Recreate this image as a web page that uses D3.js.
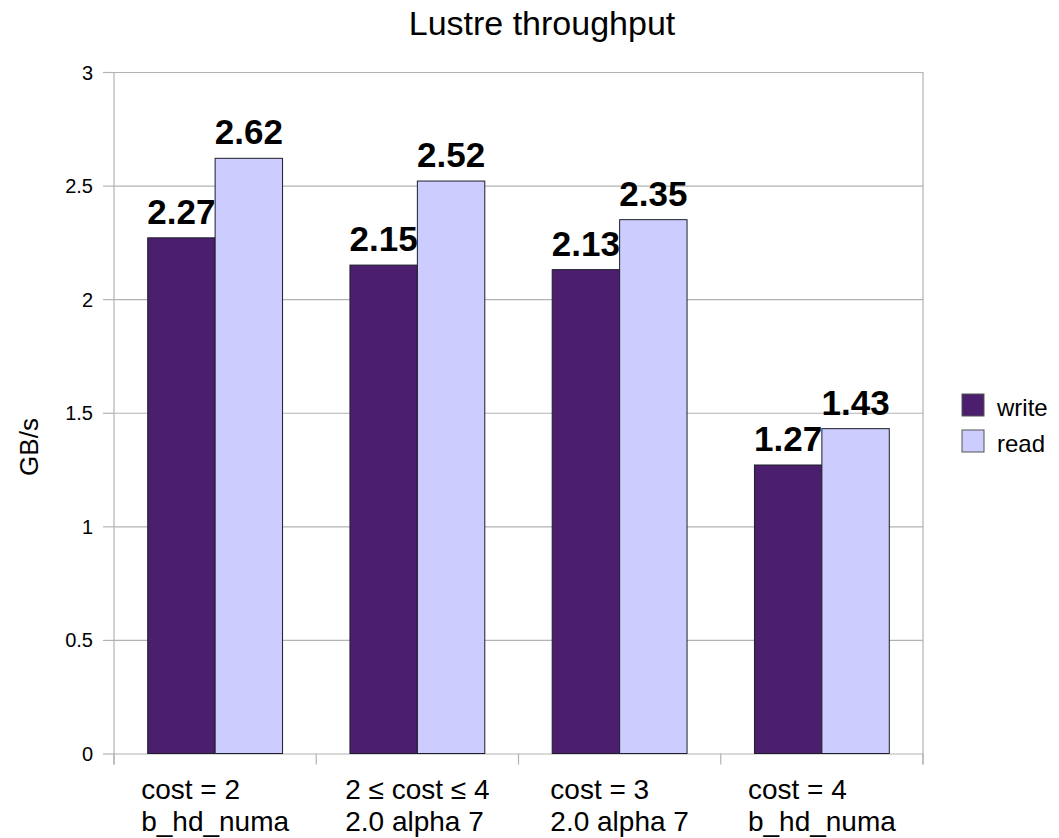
<!DOCTYPE html>
<html>
<head>
<meta charset="utf-8">
<script src="https://cdn.jsdelivr.net/npm/d3@7"></script>
<style>
  html, body { margin: 0; padding: 0; background: #fff; }
  svg { display: block; font-family: "Liberation Sans", Arial, sans-serif; }
</style>
</head>
<body>
<svg id="chart" width="1059" height="838"></svg>
<script>
// Throughput per configuration, GB/s
const categories = [
  ["cost = 2", "b_hd_numa"],
  ["2 \u2264 cost \u2264 4", "2.0 alpha 7"],
  ["cost = 3", "2.0 alpha 7"],
  ["cost = 4", "b_hd_numa"]
];
const seriesNames = ["write", "read"];
const writeValues = [2.27, 2.15, 2.13, 1.27];
const readValues = [2.62, 2.52, 2.35, 1.43];
const yTicks = [0, 0.5, 1, 1.5, 2, 2.5, 3];
const colors = ["#4b1f6e", "#ccccff"];

const series = [writeValues, readValues];

const svg = d3.select("#chart");
const plot = { left: 114, right: 923, top: 72, bottom: 753.5 };
const gridColor = "#b3b3b3";

const x0 = d3.scaleBand()
  .domain(d3.range(categories.length))
  .range([plot.left, plot.right])
  .paddingInner(0)
  .paddingOuter(0);

const x1 = d3.scaleBand()
  .domain(d3.range(seriesNames.length))
  .range([x0.bandwidth() / 6, x0.bandwidth() * 5 / 6])
  .padding(0);

const y = d3.scaleLinear().domain([0, 3]).range([plot.bottom, plot.top]);

// Horizontal gridlines with left tick marks
const yAxis = d3.axisLeft(y)
  .tickValues(yTicks)
  .tickSize(-(plot.right - plot.left))
  .tickPadding(0)
  .tickFormat(d3.format("~g"));

const yG = svg.append("g")
  .attr("transform", `translate(${plot.left},0)`)
  .call(yAxis);
yG.select(".domain").remove();
yG.selectAll(".tick line").attr("stroke", gridColor).attr("stroke-width", 1.2);
yG.selectAll(".tick").append("line")
  .attr("x1", -11).attr("x2", 0)
  .attr("stroke", gridColor).attr("stroke-width", 1.2);
yG.selectAll(".tick text")
  .attr("x", -21)
  .attr("dy", "0.35em")
  .attr("fill", "#000")
  .style("font-size", "20px")
  .style("font-family", "'Liberation Sans', Arial, sans-serif");

// Left axis and right border
svg.append("line")
  .attr("x1", plot.left).attr("x2", plot.left)
  .attr("y1", plot.top).attr("y2", plot.bottom + 11)
  .attr("stroke", gridColor).attr("stroke-width", 1.2);
svg.append("line")
  .attr("x1", plot.right).attr("x2", plot.right)
  .attr("y1", plot.top).attr("y2", plot.bottom + 11)
  .attr("stroke", gridColor).attr("stroke-width", 1.2);

// Category boundary ticks below the baseline
const boundaries = d3.range(categories.length + 1).map(i => plot.left + i * x0.step());
svg.append("g").selectAll("line")
  .data(boundaries)
  .join("line")
  .attr("x1", d => d).attr("x2", d => d)
  .attr("y1", plot.bottom).attr("y2", plot.bottom + 11)
  .attr("stroke", gridColor).attr("stroke-width", 1.2);

// Bars
const groups = svg.append("g").selectAll("g")
  .data(categories.map((c, i) => i))
  .join("g")
  .attr("transform", i => `translate(${x0(i)},0)`);

groups.selectAll("rect")
  .data(i => series.map((s, k) => ({ k, v: s[i] })))
  .join("rect")
  .attr("x", d => x1(d.k))
  .attr("y", d => y(d.v))
  .attr("width", x1.bandwidth())
  .attr("height", d => y(0) - y(d.v))
  .attr("fill", d => colors[d.k])
  .attr("stroke", "#1e1e2a")
  .attr("stroke-width", 1);

// Value labels
groups.selectAll("text.value")
  .data(i => series.map((s, k) => ({ k, v: s[i] })))
  .join("text")
  .attr("class", "value")
  .attr("x", d => x1(d.k) + x1.bandwidth() / 2)
  .attr("y", d => y(d.v) - 14)
  .attr("text-anchor", "middle")
  .attr("font-weight", "bold")
  .attr("font-size", 35)
  .attr("fill", "#000")
  .text(d => d.v.toFixed(2));

// Category labels: two lines, left aligned, block centred under the group
categories.forEach((lines, i) => {
  const g = svg.append("g");
  const texts = lines.map((t, j) => g.append("text")
    .attr("y", 799 + j * 32)
    .attr("font-size", 28)
    .attr("fill", "#000")
    .text(t));
  const w = d3.max(texts, t => t.node().getComputedTextLength());
  const cx = x0(i) + x0.bandwidth() / 2;
  texts.forEach(t => t.attr("x", cx - w / 2));
});

// Title
svg.append("text")
  .attr("x", 542)
  .attr("y", 35)
  .attr("text-anchor", "middle")
  .attr("font-size", 34)
  .attr("fill", "#000")
  .text("Lustre throughput");

// Y axis title
svg.append("text")
  .attr("transform", "translate(38,447) rotate(-90)")
  .attr("text-anchor", "middle")
  .attr("font-size", 26)
  .attr("fill", "#000")
  .text("GB/s");

// Legend
const legend = svg.append("g").attr("transform", "translate(962,394)");
const items = legend.selectAll("g")
  .data(seriesNames)
  .join("g")
  .attr("transform", (d, i) => `translate(0,${i * 36})`);
items.append("rect")
  .attr("width", 22).attr("height", 22)
  .attr("fill", (d, i) => colors[i])
  .attr("stroke", "#555")
  .attr("stroke-width", 1);
items.append("text")
  .attr("x", 35)
  .attr("y", 22)
  .attr("font-size", 24)
  .attr("fill", "#000")
  .text(d => d);
</script>
</body>
</html>
